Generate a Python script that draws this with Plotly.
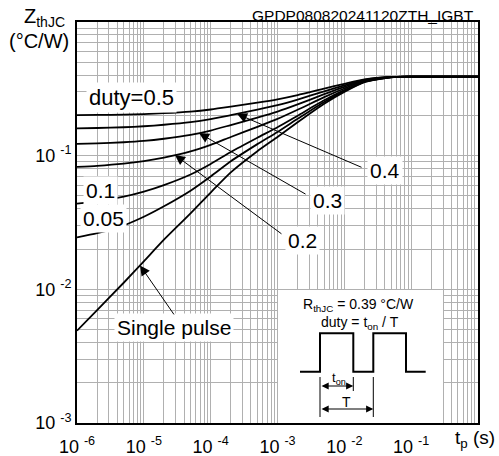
import numpy as np
import plotly.graph_objects as go

# ---------------- data ----------------
t_s = [1e-6, 2e-6, 5e-6, 1e-5, 2e-5, 5e-5, 1e-4, 2e-4, 5e-4, 1e-3, 2e-3,
       5e-3, 1e-2, 2e-2, 5e-2, 1e-1, 1.0]
z_single = [0.0049, 0.0070, 0.0112, 0.0162, 0.0235, 0.037, 0.053, 0.075, 0.108,
            0.138, 0.178, 0.245, 0.300, 0.355, 0.386, 0.390, 0.390]
z_d005 = [0.0245, 0.0263, 0.0301, 0.0349, 0.0418, 0.0547, 0.0699, 0.0908, 0.122,
          0.1506, 0.1886, 0.2523, 0.3045, 0.3568, 0.3862, 0.390, 0.390]
z_d01 = [0.0437, 0.0455, 0.0493, 0.0538, 0.0602, 0.0723, 0.0867, 0.1065, 0.1362,
         0.1632, 0.1992, 0.2595, 0.309, 0.3585, 0.3864, 0.390, 0.390]
z_d02 = [0.0825, 0.0840, 0.0872, 0.0911, 0.0968, 0.1076, 0.1204, 0.138, 0.1644,
         0.1884, 0.2204, 0.274, 0.318, 0.362, 0.3868, 0.390, 0.390]
z_d03 = [0.1225, 0.1236, 0.1260, 0.1290, 0.1338, 0.1429, 0.1541, 0.1695, 0.1926,
         0.2136, 0.2416, 0.2885, 0.327, 0.3655, 0.3872, 0.390, 0.390]
z_d04 = [0.1600, 0.1610, 0.1632, 0.1660, 0.1703, 0.1782, 0.1878, 0.201, 0.2208,
         0.2388, 0.2628, 0.303, 0.336, 0.369, 0.3876, 0.390, 0.390]
z_d05 = [0.2010, 0.2016, 0.2030, 0.2048, 0.2078, 0.2138, 0.2215, 0.2325, 0.249,
         0.264, 0.284, 0.3175, 0.345, 0.3725, 0.388, 0.390, 0.390]

curves = [z_single, z_d005, z_d01, z_d02, z_d03, z_d04, z_d05]

x_tick_vals = [1e-6, 1e-5, 1e-4, 1e-3, 1e-2, 1e-1]
x_tick_labels = ["10 <sup>-6</sup>", "10 <sup>-5</sup>", "10 <sup>-4</sup>",
                 "10 <sup>-3</sup>", "10 <sup>-2</sup>", "10 <sup>-1</sup>"]
y_tick_vals = [1e-3, 1e-2, 1e-1]
y_tick_labels = ["10 <sup>-3</sup>", "10 <sup>-2</sup>", "10 <sup>-1</sup>"]

FONT = "Liberation Sans, Arial, Helvetica, sans-serif"

fig = go.Figure()
for z in curves:
    fig.add_trace(go.Scatter(x=t_s, y=z, mode="lines",
                             line=dict(color="black", width=1.8, shape="spline", smoothing=0.6),
                             hoverinfo="skip"))

def minor_vals(lo, hi):
    return [m * 10.0 ** k for k in range(lo, hi) for m in range(2, 10)]

GRID = "#b0b0b0"
axis_common = dict(type="log", tickmode="array", showgrid=True, gridcolor=GRID,
                   gridwidth=1, showline=True, linecolor="black", linewidth=2,
                   mirror=True, ticks="", zeroline=False, automargin=False,
                   tickfont=dict(size=18, family=FONT, color="black"))
fig.update_xaxes(range=[-6, 0], tickvals=x_tick_vals, ticktext=x_tick_labels,
                 ticklabelstandoff=6,
                 minor=dict(tickmode="array", tickvals=minor_vals(-6, 0), showgrid=True,
                            gridcolor=GRID, gridwidth=1, ticks=""),
                 **axis_common)
fig.update_yaxes(range=[-3, 0], tickvals=y_tick_vals, ticktext=y_tick_labels,
                 minor=dict(tickmode="array", tickvals=minor_vals(-3, 0), showgrid=True,
                            gridcolor=GRID, gridwidth=1, ticks=""),
                 **axis_common)

W, H = 499, 456
L, R, T, B = 77, 21, 22, 33
PW, PH = W - L - R, H - T - B   # 401 x 401

def pp(x, y):
    # window pixel -> paper coords
    return (x - L) / PW, (H - B - y) / PH

ann = []
def label(text, x, y, size=21, bg="white", **kw):
    px, py = pp(x, y)
    d = dict(x=px, y=py, xref="paper", yref="paper", text=text, showarrow=False,
             font=dict(size=size, family=FONT, color="black"), bgcolor=bg,
             borderpad=2, xanchor="center", yanchor="middle")
    d.update(kw)
    ann.append(d)

label("duty=0.5", 131, 98, size=22)
label("0.1", 100, 191)
label("0.05", 103, 218)
label("0.4", 385, 171)
label("0.3", 327, 200)
label("0.2", 302, 240)
label("Single pulse", 174, 327)

# arrows: head on curve (interpolated from data), tail at label
lt = np.log10(t_s)
arrow_specs = [(z_d04, -3.606, -1.720, -1.092),
               (z_d03, -4.174, -2.558, -1.294),
               (z_d02, -4.534, -2.918, -1.593),
               (z_single, -5.057, -4.534, -2.199)]
for z, hx, tx, ty in arrow_specs:
    hy = float(np.interp(hx, lt, np.log10(z)))
    ann.append(dict(x=hx, y=hy, xref="x", yref="y", ax=tx, ay=ty, axref="x", ayref="y",
                    text="", showarrow=True, arrowhead=2, arrowsize=2.0, arrowwidth=1,
                    arrowcolor="black", standoff=0))

# titles
label("GPDP080820241120ZTH_IGBT", 477, 15, size=15.5, bg="rgba(0,0,0,0)", xanchor="right")
label("Z<sub>thJC</sub>", 44, 18, size=20, bg="rgba(0,0,0,0)")
label("(°C/W)", 39, 41, size=20, bg="rgba(0,0,0,0)")
label("t<sub>p</sub> (s)", 498, 439, size=19, bg="rgba(0,0,0,0)", xanchor="right")

# inset
shapes = []
x0, y0 = pp(278, 290)
x1, y1 = pp(443, 423)
shapes.append(dict(type="rect", xref="paper", yref="paper", x0=x0, y0=y1, x1=x1, y1=y0,
                   fillcolor="white", line=dict(width=0), layer="above"))
pulse = [(300, 371.7), (320, 371.7), (320, 333.3), (353.3, 333.3), (353.3, 371.7),
         (373.3, 371.7), (373.3, 333.3), (406, 333.3), (406, 371.7), (425.7, 371.7)]
path = ""
for i, (a, b) in enumerate(pulse):
    qx, qy = pp(a, b)
    path += ("M" if i == 0 else "L") + f"{qx:.5f},{qy:.5f} "
shapes.append(dict(type="path", xref="paper", yref="paper", path=path,
                   line=dict(color="black", width=2), layer="above"))
for (a, b0, b1) in [(320, 377, 417), (353.3, 377, 391), (373.3, 377, 417)]:
    qx, qa = pp(a, b0)
    _, qb = pp(a, b1)
    shapes.append(dict(type="line", xref="paper", yref="paper", x0=qx, x1=qx, y0=qa, y1=qb,
                       line=dict(color="black", width=1), layer="above"))
for (a0, a1, b) in [(320, 353.3, 386), (320, 373.3, 409)]:
    qx0, qy = pp(a0, b)
    qx1, _ = pp(a1, b)
    ann.append(dict(x=qx1, y=qy, xref="paper", yref="paper", ax=a0 - a1, ay=0,
                    text="", showarrow=True, arrowhead=2, arrowside="end+start",
                    arrowsize=1.2, arrowwidth=1.2, arrowcolor="black", standoff=0,
                    startstandoff=0))
label("R<sub>thJC</sub> = 0.39 °C/W", 358, 305, size=14, bg="rgba(0,0,0,0)")
label("duty = t<sub>on</sub> / T", 360, 323, size=14, bg="rgba(0,0,0,0)")
label("t<sub>on</sub>", 339, 378, size=13, bg="rgba(0,0,0,0)")
label("T", 346, 402, size=14, bg="rgba(0,0,0,0)")

fig.update_layout(width=W, height=H, margin=dict(l=L, r=R, t=T, b=B, autoexpand=False),
                  paper_bgcolor="white", plot_bgcolor="white", showlegend=False,
                  font=dict(family=FONT, color="black"), annotations=ann, shapes=shapes)

fig.write_html("out.html", config={"displayModeBar": False},
               post_script="document.body.style.margin='0';document.body.style.padding='0';")
